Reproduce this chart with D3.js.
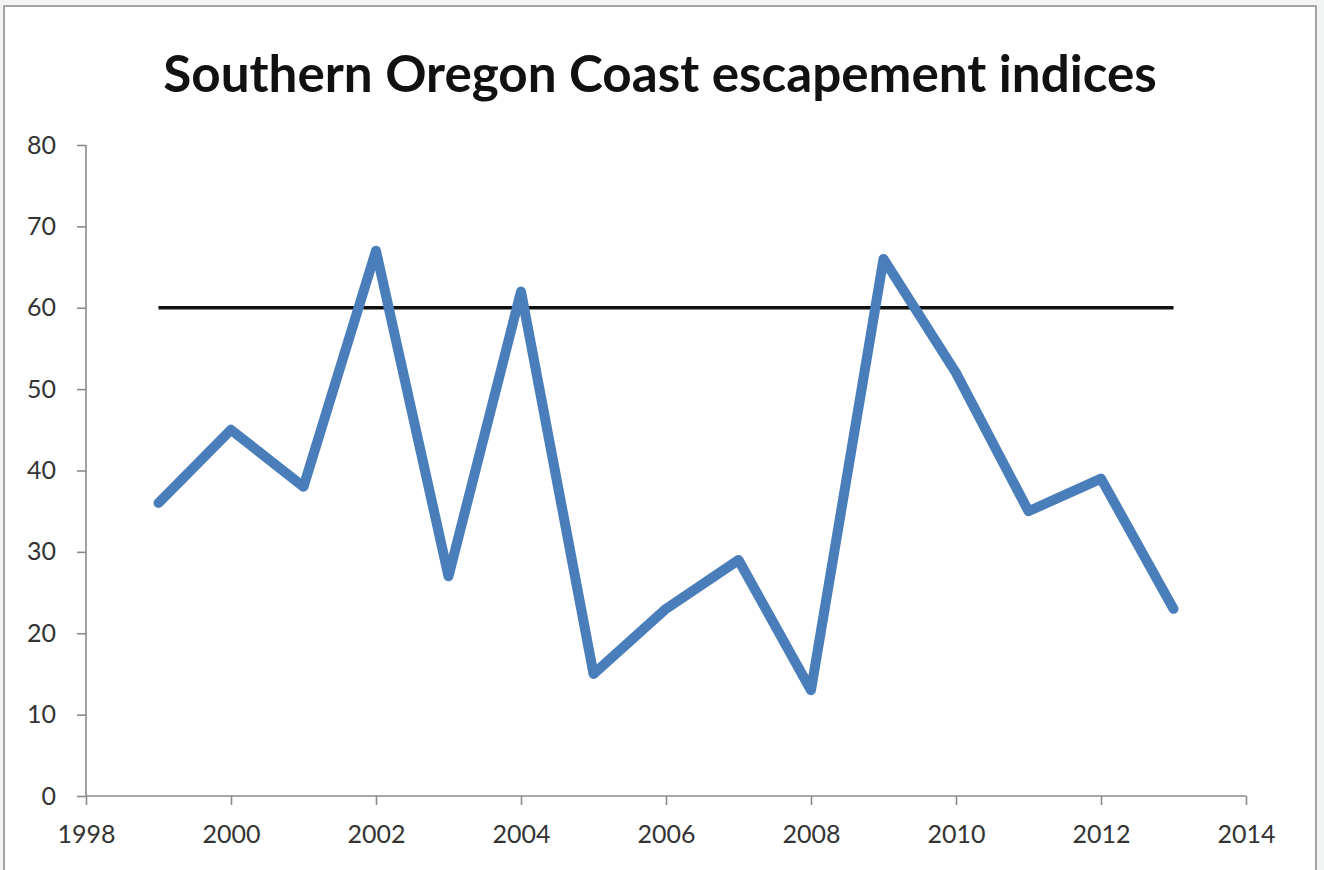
<!DOCTYPE html>
<html>
<head>
<meta charset="utf-8">
<script src="https://cdn.jsdelivr.net/npm/d3@7"></script>
<style>
  html, body { margin: 0; padding: 0; background: #f3f4f4; }
  svg { display: block; }
</style>
</head>
<body>
<svg id="chart" width="1324" height="870"></svg>
<script>
const titleText = "Southern Oregon Coast escapement indices";
const years = [1999, 2000, 2001, 2002, 2003, 2004, 2005, 2006, 2007, 2008, 2009, 2010, 2011, 2012, 2013];
const indices = [36, 45, 38, 67, 27, 62, 15, 23, 29, 13, 66, 52, 35, 39, 23];
const targetYears = [1999, 2013];
const targetValue = [60, 60];
const xTicks = [1998, 2000, 2002, 2004, 2006, 2008, 2010, 2012, 2014];
const yTicks = [0, 10, 20, 30, 40, 50, 60, 70, 80];

const svg = d3.select("#chart");
const font = "Lato, 'Open Sans', sans-serif";

// frame
svg.append("rect").attr("x", 4).attr("y", 6).attr("width", 1312).attr("height", 880)
  .attr("fill", "#ffffff").attr("stroke", "#a3a3a3").attr("stroke-width", 2);

const x = d3.scaleLinear().domain([1998, 2014]).range([86, 1246]);
const y = d3.scaleLinear().domain([0, 80]).range([796, 145]);

// title
const title = svg.append("text").attr("x", 660).attr("y", 92)
  .attr("text-anchor", "middle").attr("font-family", font)
  .attr("font-weight", "bold").attr("font-size", 46).attr("fill", "#111")
  .text(titleText);
const tw = title.node().getComputedTextLength();
title.attr("font-size", 46 * 994 / tw);

// axes
const axisColor = "#8a8a8a";
const yAxis = svg.append("g").attr("transform", "translate(86,0)")
  .call(d3.axisLeft(y).tickValues(yTicks).tickSize(9).tickSizeOuter(9).tickPadding(21));
const xAxis = svg.append("g").attr("transform", "translate(0,796)")
  .call(d3.axisBottom(x).tickValues(xTicks).tickFormat(d3.format("d")).tickSize(9).tickSizeOuter(9).tickPadding(20));

[yAxis, xAxis].forEach(g => {
  g.select(".domain").attr("stroke", axisColor).attr("stroke-width", 1.6);
  g.selectAll(".tick line").attr("stroke", axisColor).attr("stroke-width", 1.6);
  g.selectAll(".tick text").attr("font-family", font).attr("font-size", 25).attr("fill", "#333");
});
yAxis.select(".domain").attr("d", `M-0,${y(80)}V${y(0)}`);
xAxis.select(".domain").attr("d", `M${x(1998)},0H${x(2014)}`);

// target line
const line = d3.line().x(d => x(d[0])).y(d => y(d[1]));
svg.append("path")
  .datum(targetYears.map((yr, i) => [yr, targetValue[i]]))
  .attr("d", line).attr("fill", "none").attr("stroke", "#111").attr("stroke-width", 3.5);

// data line
svg.append("path")
  .datum(years.map((yr, i) => [yr, indices[i]]))
  .attr("d", line).attr("fill", "none").attr("stroke", "#4a7ebb")
  .attr("stroke-width", 10).attr("stroke-linejoin", "round").attr("stroke-linecap", "round");
</script>
</body>
</html>
